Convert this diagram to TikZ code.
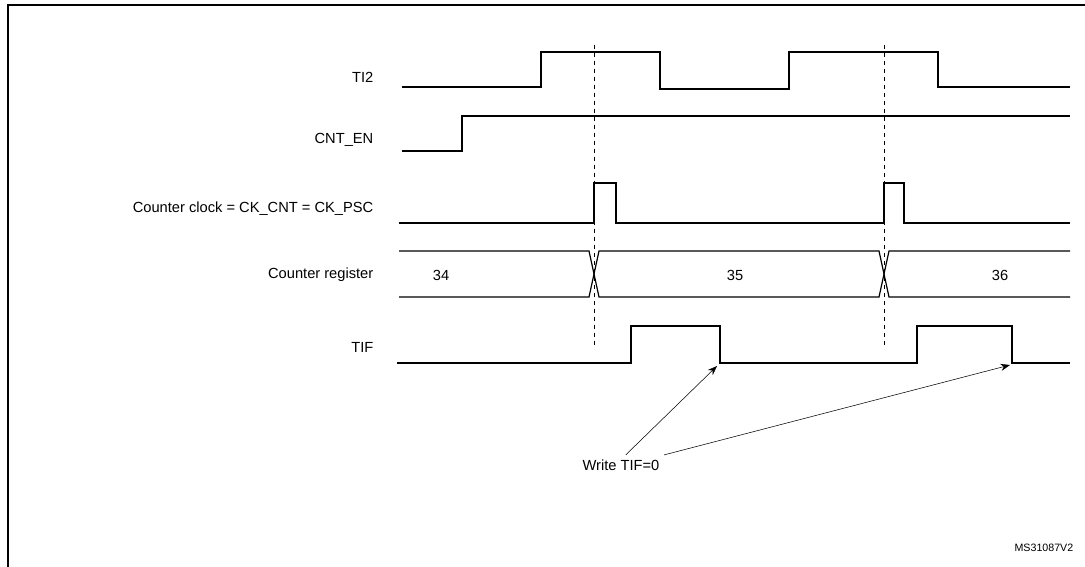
\documentclass[tikz,border=0pt]{standalone}
\usepackage{fontspec}
\setmainfont{Liberation Sans}
\usetikzlibrary{arrows.meta}
\tikzset{sig/.style={line width=0.9pt},
         lbl/.style={anchor=east, font=\fontsize{11}{13}\selectfont},
         val/.style={font=\fontsize{11}{13}\selectfont},
         evt/.style={dashed, line width=0.7pt}}

\begin{document}
\begin{tikzpicture}[x=0.75pt,y=-0.75pt]
  \useasboundingbox (0,0) rectangle (1085,567);
  \draw[line width=1pt] (8,567) -- (8,5) -- (1085,5);
  % labels
  \node[lbl] (ti2) at (378,77) {TI2};
  \node[lbl] (cnten) at (378,140) {CNT\_EN};
  \node[lbl] (clk) at (378,209) {Counter clock = CK\_CNT = CK\_PSC};
  \node[lbl] (reg) at (378,275) {Counter register};
  \node[lbl] (tif) at (378,347) {TIF};
  % waveforms
  \draw[sig] (402,87) -- (541,87) -- (541,52) -- (660,52) -- (660,89) -- (789,89) -- (789,52) -- (938,52) -- (938,87) -- (1070,87);
  \draw[sig] (402,151) -- (462,151) -- (462,116) -- (1070,116);
  \draw[sig] (399,223) -- (594,223) -- (594,183) -- (616,183) -- (616,223) -- (884,223) -- (884,183) -- (904,183) -- (904,223) -- (1070,223);
  \draw[sig] (399,251) -- (589,251) -- (599,297) -- (879,297) -- (889,251) -- (1070,251);
  \draw[sig] (399,297) -- (589,297) -- (599,251) -- (879,251) -- (889,297) -- (1070,297);
  \draw[sig] (397,363) -- (631,363) -- (631,326) -- (720,326) -- (720,363) -- (917,363) -- (917,326) -- (1012,326) -- (1012,363) -- (1070,363);
  \node[val] (v34) at (441,275) {34};
  \node[val] (v35) at (735,275) {35};
  \node[val] (v36) at (1000,275) {36};
  % update events
  \foreach \x in {594,884}
    \draw[evt] (\x,45) -- (\x,345);
  \node[val] (write) at (621,465) {Write TIF=0};
  \coordinate (clr1) at (717,366);
  \coordinate (clr2) at (1010,365);
  \draw[-{Stealth[length=7pt]}] (write.65) -- (clr1);
  \draw[-{Stealth[length=7pt]}] (write.north east) -- (clr2);
  \node[anchor=south east, font=\fontsize{8}{10}\selectfont] (ref) at (1078,556) {MS31087V2};
\end{tikzpicture}
\end{document}
